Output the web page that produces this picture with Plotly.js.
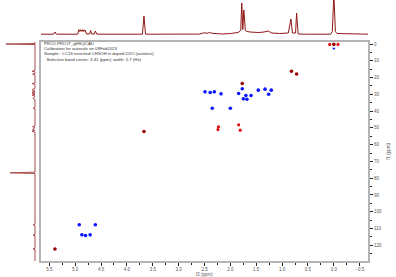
<!DOCTYPE html>
<html><head><meta charset="utf-8">
<script src="https://cdn.plot.ly/plotly-3.0.1.min.js"></script>
<style>html,body{margin:0;padding:0;background:#fff;}#c{width:396px;height:277px;}</style>
</head><body><div id="c"></div>
<script>
// 1H projection (top): f2 ppm and relative intensity
const topPpm = [5.66,5.42,5.39,5.36,4.95,4.93,4.91,4.89,4.87,4.85,4.83,4.81,4.78,4.72,4.70,4.68,4.63,4.61,4.58,3.70,3.67,3.64,2.60,2.55,2.50,2.45,2.40,2.35,2.25,2.15,2.00,1.92,1.85,1.80,1.78,1.76,1.74,1.71,1.68,1.62,1.55,1.45,1.35,1.27,1.20,1.05,0.88,0.83,0.80,0.74,0.72,0.69,0.55,0.06,0.03,0.00,-0.03,-0.06,-0.66];
const topInt = [0.3,0.3,2.5,0.3,0.3,4.8,3,4.8,3,4.8,3,4.6,0.5,0.5,4,0.5,0.5,3.5,0.3,0.3,18.5,0.3,0.4,1.5,1.8,1.2,2.0,1.2,0.8,0.5,1,1.5,2,4,31.5,5,24.5,4,3,2.5,2,2,2.5,3.5,1.5,1,1.5,15.5,1.5,1.5,21.5,0.5,0.3,0.3,3,40,3,1,0.3];
// 13C projection (left): f1 ppm and relative intensity
const leftPpm = [-1.4,-0.3,0,0.3,15.8,16.2,16.6,17.6,18,18.4,23.2,23.6,24,26.5,27,27.5,28,28.3,28.7,29.2,29.6,30,30.5,31,32.5,33,38,38.3,38.7,48.8,49.3,49.8,51,51.5,52,52.5,76.4,76.8,77.2,107.4,107.8,108.2,113.5,113.9,114.3,121.8,122.2,122.6,130];
const leftInt = [0,0,29,0,0,3,0,0,2.5,0,0,3,0,0,2.5,2.5,0,0,3,0,2.5,0,3,0,2,0,0,2,0,0,2.5,0,2.5,0,3,0,0,25,0,0,2,0,0,2,0,0,2,0,0];
// cross peaks
const blueF2 = [2.49,2.39,2.31,2.18,2.35,2.00,1.84,1.77,1.70,1.60,1.75,1.68,1.46,1.33,1.21,1.26,4.92,4.61,4.87,4.80,4.71];
const blueF1 = [28.5,28.9,28.5,29.7,38.3,38.3,29.5,26.7,30.7,30.7,32.7,32.9,27.5,26.9,27.5,29.9,107.8,107.8,113.8,114.2,113.8];
const darkRedF2 = [1.77,0.82,0.72,3.67,5.39,0.00];
const darkRedF1 = [23.5,16.2,17.9,52.2,122.2,0.2];
const redF2 = [2.23,2.24,1.84,1.81,0.08,-0.08];
const redF1 = [49.4,51.0,48.2,51.4,0.2,0.2];
const tmsBlueF2 = [0.00];
const tmsBlueF1 = [2.6];
const infoLines = ["PROJ-PROJ7_gHSQCAD","Calibration for autosolv on 09Feb2023","Sample : I-C13 enriched CH3OH in doped D2O (autotest)","  Selective band center: 3.41 (ppm); width: 5.7 (Hz)"];

const W=396,H=277;
const fnt = {family:'Liberation Sans, Arial, sans-serif', size:4.5, color:'#555'};
const traces = [
 {x:topPpm,y:topInt,xaxis:'x2',yaxis:'y2',type:'scatter',mode:'lines',line:{color:'#8f1616',width:1},hoverinfo:'skip'},
 {x:leftInt,y:leftPpm,xaxis:'x3',yaxis:'y3',type:'scatter',mode:'lines',line:{color:'#a84a4a',width:1},hoverinfo:'skip'},
 {x:blueF2,y:blueF1,type:'scatter',mode:'markers',marker:{color:'#0a14ff',size:3.6,symbol:'circle'}},
 {x:darkRedF2,y:darkRedF1,type:'scatter',mode:'markers',marker:{color:'#9a0000',size:3.6}},
 {x:redF2,y:redF1,type:'scatter',mode:'markers',marker:{color:'#e01010',size:3.2}},
 {x:tmsBlueF2,y:tmsBlueF1,type:'scatter',mode:'markers',marker:{color:'#0a14ff',size:3,symbol:'triangle-down'}}
];
const xd=[41/W,368/W], yd=[16/H,235.3/H];
const layout = {
 width:W,height:H,margin:{l:0,r:0,t:0,b:0},paper_bgcolor:'#fff',plot_bgcolor:'#fff',showlegend:false,
 xaxis:{domain:xd,range:[5.66,-0.66],anchor:'y',showline:true,linecolor:'#b4b4b4',linewidth:2,mirror:true,
   ticks:'outside',ticklen:3,tickwidth:1,tickcolor:'#222',dtick:0.5,tick0:0,tickformat:'.1f',tickfont:fnt,
   showgrid:false,zeroline:false,minor:{dtick:0.25,ticks:'outside',ticklen:2,tickcolor:'#222',showgrid:false},
   title:{text:'f2 (ppm)',font:fnt,standoff:2}},
 yaxis:{domain:yd,range:[129.4,-1.4],anchor:'x',side:'right',showline:true,linecolor:'#b4b4b4',linewidth:2,mirror:true,
   ticks:'outside',ticklen:3,tickwidth:1,tickcolor:'#222',dtick:10,tick0:0,tickfont:fnt,
   showgrid:false,zeroline:false,minor:{dtick:5,ticks:'outside',ticklen:2,tickcolor:'#222',showgrid:false},
   title:{text:'f1 (ppm)',font:fnt,standoff:6}},
 xaxis2:{domain:xd,anchor:'y2',matches:'x',visible:false},
 yaxis2:{domain:[241/H,1],range:[-1.5,34.5],anchor:'x2',visible:false},
 xaxis3:{domain:[0,36/W],range:[35,-1],anchor:'y3',visible:false},
 yaxis3:{domain:yd,matches:'y',anchor:'x3',visible:false},
 annotations: infoLines.map((t,i)=>({text:t,xref:'paper',yref:'paper',x:41.5/W,y:(H-(43.3+i*5.3))/H,
   xanchor:'left',yanchor:'middle',showarrow:false,font:{family:'Liberation Sans, Arial, sans-serif',size:4.3,color:'#333'}}))
};
Plotly.newPlot('c',traces,layout,{staticPlot:true,displayModeBar:false});
</script></body></html>
